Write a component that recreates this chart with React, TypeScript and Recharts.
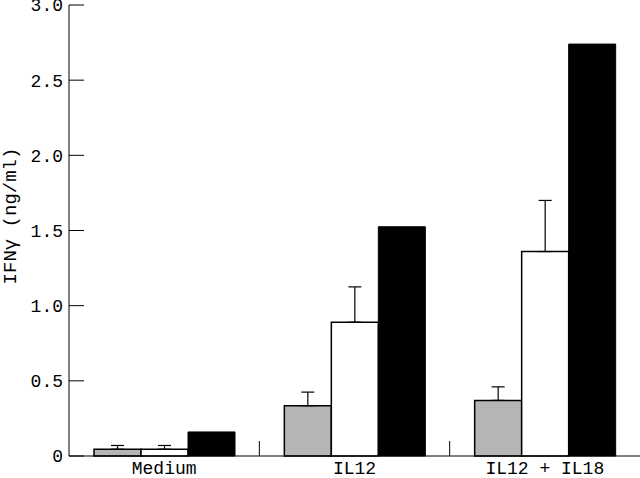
import { Bar, BarChart, ErrorBar, XAxis, YAxis } from 'recharts'

const categories = ['Medium', 'IL12', 'IL12 + IL18']
const grayValues = [0.045, 0.335, 0.37]
const grayErrors = [0.025, 0.09, 0.09]
const whiteValues = [0.045, 0.89, 1.36]
const whiteErrors = [0.025, 0.235, 0.34]
const blackValues = [0.16, 1.525, 2.74]
const yTicks = [0, 0.5, 1, 1.5, 2, 2.5, 3]

const FONT = '"Liberation Mono", "DejaVu Sans Mono", monospace'

const data = categories.map((name, i) => ({
  name,
  gray: grayValues[i],
  grayErr: [0, grayErrors[i]],
  white: whiteValues[i],
  whiteErr: [0, whiteErrors[i]],
  black: blackValues[i],
}))

function YTick(props: any) {
  const { x, y, payload } = props
  const v = payload.value
  return (
    <g>
      <line x1={x + 6} x2={x + 21} y1={y} y2={y} stroke="#000" strokeWidth={1} />
      <text x={x} y={y} dy="0.36em" textAnchor="end" fontFamily={FONT} fontSize={18} fill="#000">
        {v === 0 ? '0' : v.toFixed(1)}
      </text>
    </g>
  )
}

function XTick(props: any) {
  const { x, y, payload, index } = props
  const half = payload.offset || 95
  return (
    <g>
      {index > 0 && (
        <line x1={x - half} x2={x - half} y1={y - 21} y2={y - 6} stroke="#000" strokeWidth={1} />
      )}
      <text x={x} y={y + 12} textAnchor="middle" fontFamily={FONT} fontSize={18} fill="#000">
        {payload.value}
      </text>
    </g>
  )
}

export default function App() {
  return (
    <div style={{ position: 'absolute', left: 0, top: 0, background: '#fff' }}>
      <BarChart
        width={640}
        height={478}
        data={data}
        margin={{ top: 5, right: 0, left: 0, bottom: 0 }}
        barCategoryGap={25}
        barGap={0}
      >
        <XAxis
          dataKey="name"
          height={22}
          tickLine={false}
          tickSize={0}
          tickMargin={6}
          axisLine={{ stroke: '#000', strokeWidth: 1 }}
          tick={<XTick />}
          interval={0}
        />
        <YAxis
          width={69}
          domain={[0, 3]}
          ticks={yTicks}
          interval={0}
          tickLine={false}
          tickSize={0}
          tickMargin={6}
          axisLine={{ stroke: '#000', strokeWidth: 1 }}
          tick={<YTick />}
          label={{
            content: () => (
              <text
                x={11}
                y={216}
                transform="rotate(-90 11 216)"
                textAnchor="middle"
                dominantBaseline="central"
                fontFamily={FONT}
                fontSize={19}
                fill="#000"
              >
                IFNγ (ng/ml)
              </text>
            ),
          }}
        />
        <Bar dataKey="gray" fill="#b5b5b5" stroke="#000" strokeWidth={1.5} isAnimationActive={false}>
          <ErrorBar dataKey="grayErr" direction="y" width={6.5} stroke="#000" strokeWidth={1.2} />
        </Bar>
        <Bar dataKey="white" fill="#fff" stroke="#000" strokeWidth={1.5} isAnimationActive={false}>
          <ErrorBar dataKey="whiteErr" direction="y" width={6.5} stroke="#000" strokeWidth={1.2} />
        </Bar>
        <Bar dataKey="black" fill="#000" stroke="#000" strokeWidth={1} isAnimationActive={false} />
      </BarChart>
    </div>
  )
}
